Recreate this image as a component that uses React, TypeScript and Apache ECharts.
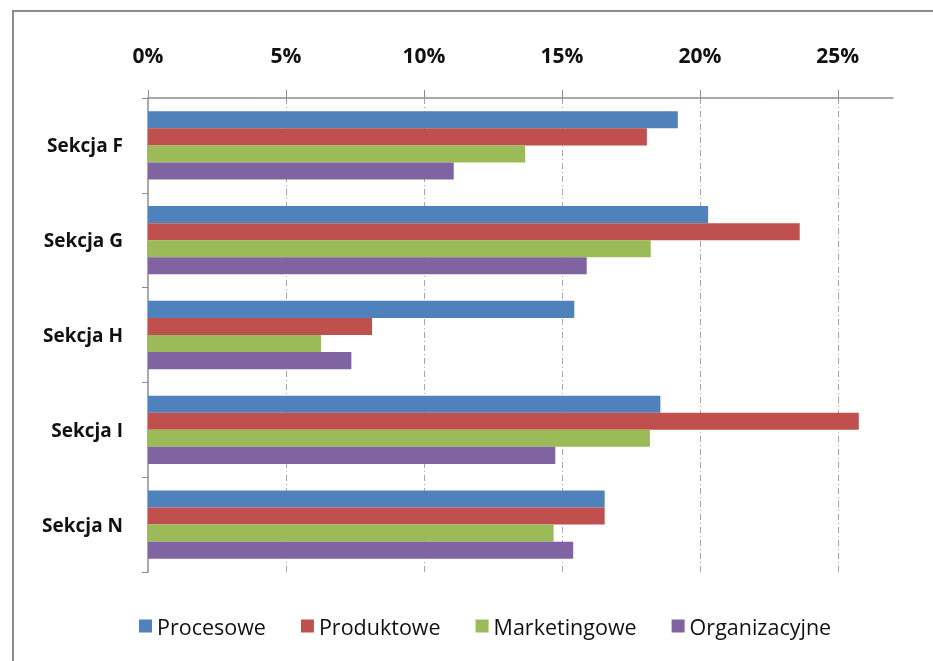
import React, { useEffect, useRef } from "react";
import * as echarts from "echarts";

const categories = ["Sekcja F", "Sekcja G", "Sekcja H", "Sekcja I", "Sekcja N"];
const seriesNames = ["Procesowe", "Produktowe", "Marketingowe", "Organizacyjne"];
const procesowe = [19.2, 20.3, 15.45, 18.57, 16.55];
const produktowe = [18.08, 23.62, 8.12, 25.76, 16.55];
const marketingowe = [13.67, 18.22, 6.27, 18.19, 14.7];
const organizacyjne = [11.08, 15.9, 7.37, 14.76, 15.41];
const tickValues = [0, 5, 10, 15, 20, 25];
const colors = ["#4F81BD", "#C0504D", "#9BBB59", "#8064A2"];

const FONT = "'Open Sans', 'Noto Sans', sans-serif";

export default function App() {
  const ref = useRef<HTMLDivElement>(null);
  useEffect(() => {
    if (!ref.current) return;
    const chart = echarts.init(ref.current, undefined, { renderer: "svg" });
    const data = [procesowe, produktowe, marketingowe, organizacyjne];
    chart.setOption({
      animation: false,
      color: colors,
      graphic: [
        {
          type: "rect",
          shape: { x: 13, y: 11, width: 2000, height: 2000 },
          style: { fill: "none", stroke: "#8c8c8c", lineWidth: 2 },
          silent: true,
        },
      ],
      grid: { left: 148, right: 40, top: 98, bottom: 89, containLabel: false },
      xAxis: {
        type: "value",
        position: "top",
        min: 0,
        max: 27,
        interval: 5,
        axisLine: { show: true, lineStyle: { color: "#8c8c8c", width: 1.5 } },
        axisTick: { show: true, length: 8, customValues: tickValues, lineStyle: { color: "#8c8c8c" } },
        axisLabel: {
          customValues: tickValues,
          formatter: (v: number) => `${v}%`,
          margin: 33,
          fontFamily: FONT,
          fontWeight: "bold",
          fontSize: 21,
          color: "#111",
        },
        splitLine: {
          show: true,
          showMinLine: false,
          lineStyle: { color: "#a6a6a6", type: [6, 3, 1, 3], width: 1 },
        },
      },
      yAxis: {
        type: "category",
        inverse: true,
        data: categories,
        axisLine: { show: true, lineStyle: { color: "#8c8c8c", width: 1.5 } },
        axisTick: { show: true, length: 6, lineStyle: { color: "#8c8c8c" } },
        axisLabel: {
          margin: 25,
          fontFamily: FONT,
          fontWeight: "bold",
          fontSize: 19,
          color: "#111",
        },
      },
      legend: {
        bottom: 19,
        left: 134,
        itemWidth: 13,
        itemHeight: 13,
        itemGap: 35,
        icon: "rect",
        data: seriesNames,
        textStyle: { fontFamily: FONT, fontSize: 21.5, color: "#111" },
      },
      series: seriesNames.map((name, i) => ({
        name,
        type: "bar",
        data: data[i],
        barGap: "0%",
        barCategoryGap: "28%",
        itemStyle: { color: colors[i] },
      })),
    });
    return () => chart.dispose();
  }, []);
  return (
    <div
      ref={ref}
      style={{ position: "fixed", left: 0, top: 0, width: 933, height: 661 }}
    />
  );
}
